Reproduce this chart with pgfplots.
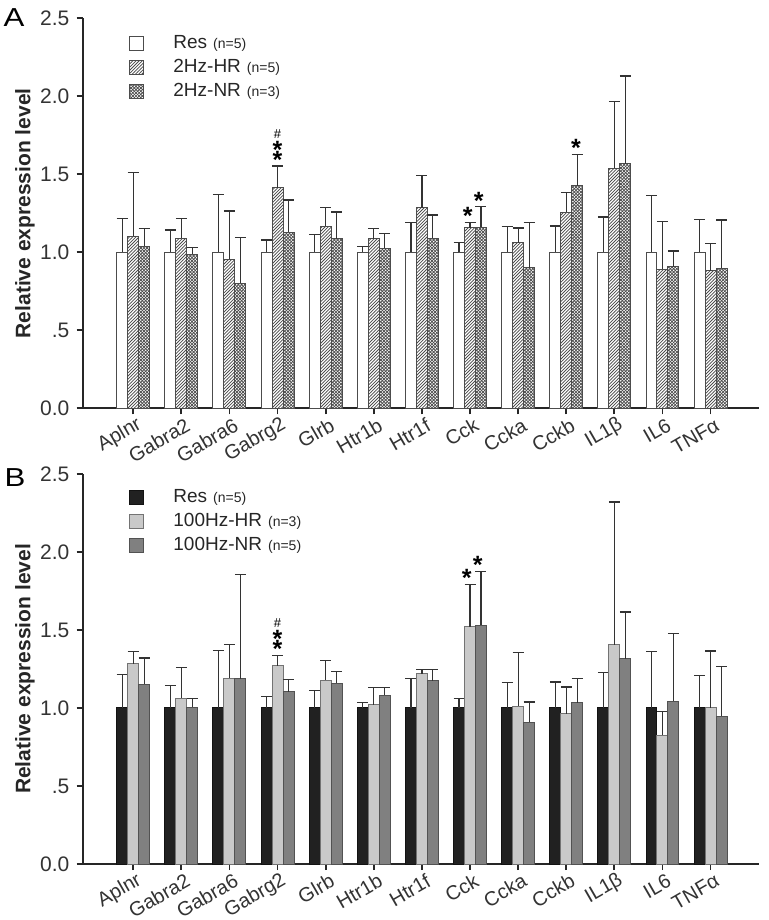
\documentclass[border=0pt]{standalone}
\usepackage{pgfplots}
\usepackage{pgfplotstable}
\pgfplotsset{compat=1.18}
\usepackage{fontspec}
\setmainfont{Liberation Sans}
\usetikzlibrary{patterns.meta}

\tikzdeclarepattern{
  name=dhatch, type=uncolored,
  bottom left={(-.1pt,-.1pt)}, top right={(1.7pt,1.7pt)}, tile size={(1.6pt,1.6pt)},
  code={\draw[line width=0.38pt] (-.1pt,-.1pt) -- (1.7pt,1.7pt);}
}
\tikzdeclarepattern{
  name=xhatch, type=uncolored,
  bottom left={(-.1pt,-.1pt)}, top right={(1.7pt,1.7pt)}, tile size={(1.6pt,1.6pt)},
  code={\draw[line width=0.33pt] (-.1pt,-.1pt) -- (1.7pt,1.7pt) (-.1pt,1.7pt) -- (1.7pt,-.1pt);}
}

\pgfplotstableread{
x res resE hr hrE nr nrE
0  1.0 0.215 1.104 0.409 1.038 0.113
1  1.0 0.143 1.090 0.128 0.987 0.043
2  1.0 0.372 0.955 0.310 0.801 0.293
3  1.0 0.079 1.414 0.139 1.128 0.207
4  1.0 0.113 1.167 0.119 1.087 0.171
5  1.0 0.038 1.087 0.064 1.026 0.096
6  1.0 0.192 1.286 0.208 1.090 0.149
7  1.0 0.064 1.158 0.032 1.162 0.130
8  1.0 0.164 1.062 0.094 0.901 0.291
9  1.0 0.169 1.256 0.126 1.425 0.203
10 1.0 0.226 1.540 0.428 1.568 0.562
11 1.0 0.363 0.891 0.305 0.908 0.100
12 1.0 0.209 0.882 0.173 0.897 0.310
}\dataA

\pgfplotstableread{
x res resE hr hrE nr nrE
0  1.0 0.217 1.285 0.077 1.153 0.168
1  1.0 0.142 1.063 0.196 1.005 0.056
2  1.0 0.368 1.191 0.214 1.187 0.667
3  1.0 0.076 1.272 0.064 1.105 0.077
4  1.0 0.114 1.178 0.128 1.159 0.075
5  1.0 0.037 1.020 0.109 1.082 0.047
6  1.0 0.189 1.221 0.028 1.174 0.073
7  1.0 0.063 1.522 0.268 1.531 0.344
8  1.0 0.165 1.011 0.347 0.909 0.130
9  1.0 0.167 0.962 0.173 1.033 0.158
10 1.0 0.225 1.407 0.913 1.317 0.299
11 1.0 0.364 0.825 0.152 1.044 0.433
12 1.0 0.210 1.003 0.363 0.947 0.321
}\dataB

\pgfplotsset{
  mypanel/.style={
    scale only axis, width=338pt, height=195pt,
    ybar=0pt, bar width=0.228,
    xmin=-1.05, xmax=13, ymin=0, ymax=2.5,
    axis lines=left, axis line style={-, line width=1pt, draw=black!85},
    xtick={0,...,12},
    xticklabels={Aplnr,Gabra2,Gabra6,Gabrg2,Glrb,Htr1b,Htr1f,Cck,Ccka,Cckb,IL1β,IL6,TNFα},
    ytick={0,0.5,1,1.5,2,2.5},
    yticklabels={\textnormal{0.0},\textnormal{.5},\textnormal{1.0},\textnormal{1.5},\textnormal{2.0},\textnormal{2.5}},
    tick align=outside, major tick length=3pt,
    tick style={line width=0.9pt, draw=black!85},
    yticklabel style={font=\fontsize{10.5}{11}\selectfont, text=black!80, inner sep=0pt, xshift=-3.5pt},
    xticklabel style={font=\fontsize{10}{11}\selectfont, text=black!80, inner sep=0pt,
      xshift=3.5pt, yshift=-4.5pt, rotate=30, anchor=east},
    ylabel={Relative expression level},
    ylabel style={at={(axis description cs:-0.0854,0.5)}, anchor=center,
      font=\bfseries\fontsize{10.5}{12}\selectfont, text=black!85},
    clip=false,
    legend cell align=left,
    legend style={draw=none, fill=none, anchor=north west, row sep=4pt, inner sep=0pt,
      nodes={inner sep=0pt, text height=6.5pt, text depth=1.5pt,
        font=\fontsize{9.5}{10}\selectfont, text=black!85},
      /tikz/every odd column/.append style={column sep=14.5pt}},
  },
  legimg/.style={legend image code/.code={\draw[##1, line width=0.5pt] (0pt,-3.5pt) rectangle (7pt,3.5pt);}},
  myerr/.style={error bars/.cd, y dir=plus, y explicit,
    error bar style={line width=0.6pt, draw=black!80},
    error mark options={rotate=90, line width=0.6pt, draw=black!80, mark size=2.75pt}},
}
\tikzset{
  star/.style={anchor=north, inner sep=0pt, font=\bfseries\fontsize{12.5}{12}\selectfont, text=black},
  hash/.style={anchor=north, inner sep=0pt, font=\fontsize{6.5}{7}\selectfont, text=black},
}
\newcommand{\nn}[1]{\hspace{3pt}{\fontsize{7}{7}\selectfont(n=#1)}}

\begin{document}
\begin{tikzpicture}
\path[use as bounding box] (0,0) rectangle (384.5pt,460pt);
\node[font=\fontsize{13}{13}\selectfont, text=black, xscale=1.2] at (7pt,451pt) {A};
\node[font=\fontsize{13}{13}\selectfont, text=black, xscale=1.2] at (7.5pt,221pt) {B};

\begin{axis}[mypanel, at={(41.35pt,255.85pt)}, anchor=south west,
  legend style={at={(rel axis cs:0.0685,0.956)}}]
\addplot[fill=white, draw=black!70, line width=0.5pt, legimg, myerr]
  table[x=x, y=res, y error=resE]{\dataA};
\addlegendentry{Res\nn{5}}
\addplot[fill=white, draw=black!70, line width=0.5pt,
  postaction={pattern=dhatch, pattern color=black!70}, legimg, myerr]
  table[x=x, y=hr, y error=hrE]{\dataA};
\addlegendentry{2Hz-HR\nn{5}}
\addplot[fill=white, draw=black!70, line width=0.5pt,
  postaction={pattern=xhatch, pattern color=black!70}, legimg, myerr]
  table[x=x, y=nr, y error=nrE]{\dataA};
\addlegendentry{2Hz-NR\nn{3}}
\node[hash] at (axis cs:3,1.790) {\#};
\node[star] at (axis cs:3,1.713) {*};
\node[star] at (axis cs:3,1.649) {*};
\node[star] at (axis cs:6.95,1.292) {*};
\node[star] at (axis cs:7.18,1.389) {*};
\node[star] at (axis cs:9.2,1.726) {*};
\end{axis}

\begin{axis}[mypanel, at={(41.35pt,28pt)}, anchor=south west,
  legend style={at={(rel axis cs:0.0685,0.962)}}]
\addplot[fill=black!87, draw=black!93, line width=0.5pt, legimg, myerr]
  table[x=x, y=res, y error=resE]{\dataB};
\addlegendentry{Res\nn{5}}
\addplot[fill=black!21, draw=black!55, line width=0.5pt, legimg, myerr]
  table[x=x, y=hr, y error=hrE]{\dataB};
\addlegendentry{100Hz-HR\nn{3}}
\addplot[fill=black!50, draw=black!68, line width=0.5pt, legimg, myerr]
  table[x=x, y=nr, y error=nrE]{\dataB};
\addlegendentry{100Hz-NR\nn{5}}
\node[hash] at (axis cs:3,1.576) {\#};
\node[star] at (axis cs:3,1.501) {*};
\node[star] at (axis cs:3,1.437) {*};
\node[star] at (axis cs:6.93,1.890) {*};
\node[star] at (axis cs:7.16,1.976) {*};
\end{axis}
\end{tikzpicture}
\end{document}
